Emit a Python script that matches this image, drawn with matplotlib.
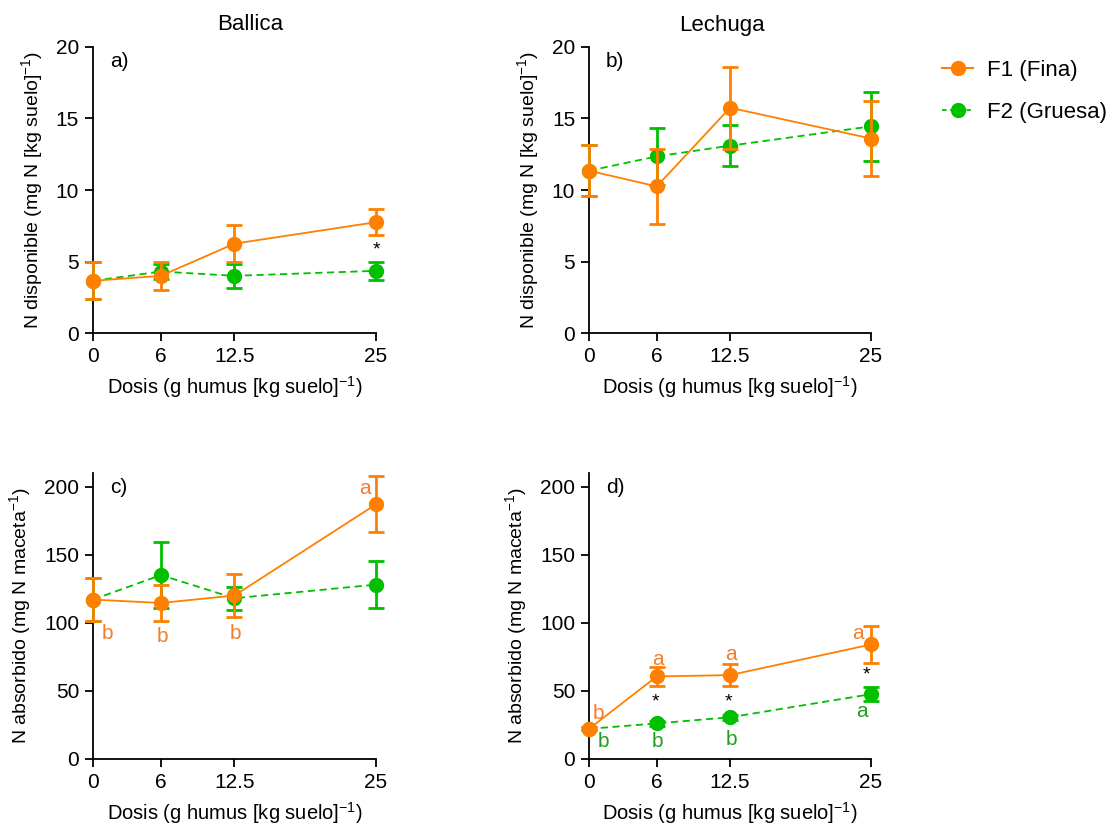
import matplotlib
matplotlib.use("Agg")
import matplotlib.pyplot as plt
from matplotlib.lines import Line2D
import numpy as np

plt.rcParams['font.family'] = ['Liberation Sans', 'DejaVu Sans']
plt.rcParams['mathtext.default'] = 'regular'

# data
dosis = [0, 6, 12.5, 25]

# a) Ballica, N disponible
a_f1 = [3.65, 4.0, 6.25, 7.75]
a_f1_err = [1.3, 1.0, 1.3, 0.9]
a_f2 = [3.65, 4.3, 4.0, 4.35]
a_f2_err = [1.3, 0.5, 0.85, 0.65]

# b) Lechuga, N disponible
b_f1 = [11.35, 10.25, 15.75, 13.6]
b_f1_err = [1.8, 2.6, 2.85, 2.65]
b_f2 = [11.35, 12.35, 13.1, 14.45]
b_f2_err = [1.8, 2.0, 1.45, 2.4]

# c) Ballica, N absorbido
c_f1 = [117, 114.5, 120, 187]
c_f1_err = [15.5, 13, 16, 20.5]
c_f2 = [117, 135, 118, 128]
c_f2_err = [15.5, 24, 8.5, 17]

# d) Lechuga, N absorbido
d_f1 = [22, 60.5, 61.5, 84]
d_f1_err = [1.0, 7, 8, 13.5]
d_f2 = [22, 26, 30.5, 47.5]
d_f2_err = [1.0, 2.0, 2.0, 5.3]

# significance letters (x, y, text)
c_letters_f1 = [(1.3, 92, 'b'), (6.1, 90, 'b'), (12.6, 92, 'b'), (24.0, 199, 'a')]
d_letters_f1 = [(0.8, 33, 'b'), (6.1, 73, 'a'), (12.6, 77, 'a'), (23.8, 92, 'a')]
d_letters_f2 = [(1.3, 13, 'b'), (6.1, 13, 'b'), (12.6, 14.5, 'b'), (24.2, 35, 'a')]
a_stars = [(25, 5.8)]
d_stars = [(5.9, 41.5), (12.4, 42), (24.6, 61.5)]

ORANGE = '#FF8000'
GREEN = '#00C000'
ORANGE_TXT = '#F47D30'
GREEN_TXT = '#229E22'

xlab = 'Dosis (g humus [kg suelo]$^{-1}$)'
ylab_top = 'N disponible (mg N [kg suelo]$^{-1}$)'
ylab_bot = 'N absorbido (mg N maceta$^{-1}$)'

fig = plt.figure(figsize=(11.15, 8.27), dpi=100)

def panel(rect, f1, f1e, f2, f2e, ymax, yticks, ylab, tag):
    ax = fig.add_axes(rect)
    h2 = ax.errorbar(dosis, f2, yerr=f2e, fmt='o--', color=GREEN, ms=10,
                     lw=1.3, elinewidth=2, capsize=6, capthick=2,
                     dashes=(4, 2.5), zorder=3)
    h1 = ax.errorbar(dosis, f1, yerr=f1e, fmt='o-', color=ORANGE, ms=10,
                     lw=1.3, elinewidth=2, capsize=6, capthick=2, zorder=4)
    for h in (h1, h2):
        for art in h.get_children():
            art.set_clip_on(False)
    ax.set_xlim(0, 25)
    ax.set_ylim(0, ymax)
    ax.set_xticks(dosis)
    ax.set_xticklabels(['0', '6', '12.5', '25'])
    ax.set_yticks(yticks)
    ax.spines['top'].set_visible(False)
    ax.spines['right'].set_visible(False)
    ax.spines['left'].set_linewidth(1.3)
    ax.spines['bottom'].set_linewidth(1.3)
    ax.tick_params(direction='out', length=6, width=1.3, labelsize=15, pad=4)
    ax.set_xlabel(xlab, fontsize=14.5, labelpad=6)
    ax.set_ylabel(ylab, fontsize=14, labelpad=8)
    ax.text(0.06, 0.95, tag, transform=ax.transAxes, fontsize=15,
            ha='left', va='center')
    return ax

ax_a = panel([0.0834, 0.5973, 0.2538, 0.3459], a_f1, a_f1_err, a_f2, a_f2_err,
             20, [0, 5, 10, 15, 20], ylab_top, 'a)')
ax_b = panel([0.5283, 0.5973, 0.2529, 0.3459], b_f1, b_f1_err, b_f2, b_f2_err,
             20, [0, 5, 10, 15, 20], ylab_top, 'b)')
ax_c = panel([0.0834, 0.0825, 0.2538, 0.3455], c_f1, c_f1_err, c_f2, c_f2_err,
             210, [0, 50, 100, 150, 200], ylab_bot, 'c)')
ax_d = panel([0.5283, 0.0825, 0.2529, 0.3455], d_f1, d_f1_err, d_f2, d_f2_err,
             210, [0, 50, 100, 150, 200], ylab_bot, 'd)')

for x, y, s in c_letters_f1:
    ax_c.text(x, y, s, color=ORANGE_TXT, fontsize=15, ha='center', va='center')
for x, y, s in d_letters_f1:
    ax_d.text(x, y, s, color=ORANGE_TXT, fontsize=15, ha='center', va='center')
for x, y, s in d_letters_f2:
    ax_d.text(x, y, s, color=GREEN_TXT, fontsize=15, ha='center', va='center')
for x, y in a_stars:
    ax_a.text(x, y, '*', color='black', fontsize=14, ha='center', va='center')
for x, y in d_stars:
    ax_d.text(x, y, '*', color='black', fontsize=14, ha='center', va='center')

fig.text(250 / 1115, 1 - 25 / 827, 'Ballica', fontsize=16, ha='center', va='center')
fig.text(722 / 1115, 1 - 25 / 827, 'Lechuga', fontsize=16, ha='center', va='center')

leg_handles = [Line2D([], [], color=ORANGE, marker='o', ms=10, lw=1.5),
               Line2D([], [], color=GREEN, marker='o', ms=10, lw=1.3,
                      dashes=(2.5, 2))]
fig.legend(leg_handles, ['F1 (Fina)', 'F2 (Gruesa)'], loc='upper left',
           bbox_to_anchor=(0.827, 0.952), frameon=False, fontsize=16,
           handlelength=1.4, handletextpad=0.6, labelspacing=0.95)

fig.savefig('out.png', dpi=100)
